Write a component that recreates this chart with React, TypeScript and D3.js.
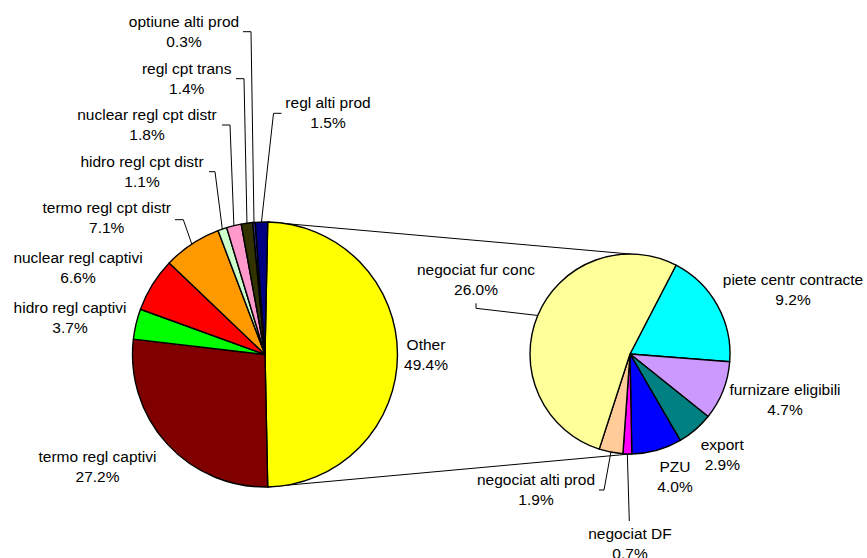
import React from "react";
import * as d3 from "d3";

const mainCategories = [
  "Other",
  "termo regl captivi",
  "hidro regl captivi",
  "nuclear regl captivi",
  "termo regl cpt distr",
  "hidro regl cpt distr",
  "nuclear regl cpt distr",
  "regl cpt trans",
  "optiune alti prod",
  "regl alti prod",
];
const mainValues = [49.4, 27.2, 3.7, 6.6, 7.1, 1.1, 1.8, 1.4, 0.3, 1.5];
const mainColors = [
  "#FFFF00", "#800000", "#00FF00", "#FF0000", "#FF9900",
  "#CCFFCC", "#FF99CC", "#333300", "#333399", "#000080",
];

const secCategories = [
  "piete centr contracte",
  "furnizare eligibili",
  "export",
  "PZU",
  "negociat DF",
  "negociat alti prod",
  "negociat fur conc",
];
const secValues = [9.2, 4.7, 2.9, 4.0, 0.7, 1.9, 26.0];
const secColors = [
  "#00FFFF", "#CC99FF", "#008080", "#0000FF", "#FF00FF", "#FFCC99", "#FFFF99",
];

// label layout: x = text center, y = first baseline; leader = polyline start points before edge
type Lay = { x: number; y: number; leader?: [number, number][] };
const mainLayout: Lay[] = [
  { x: 426, y: 349.5 },
  { x: 97.5, y: 462 },
  { x: 70, y: 313 },
  { x: 78, y: 263 },
  { x: 106.7, y: 233 - 20, leader: [[175, 219.7], [183.3, 219.7]] },
  { x: 142, y: 167, leader: [[209, 171.7], [215, 171.7]] },
  { x: 147, y: 120, leader: [[222, 125], [230, 125]] },
  { x: 186.7, y: 74, leader: [[236, 78.7], [244, 78.7]] },
  { x: 184, y: 27, leader: [[243, 31.7], [251, 31.7]] },
  { x: 328, y: 108, leader: [[281.5, 113.3], [273.5, 113.3]] },
];
const secLayout: Lay[] = [
  { x: 793, y: 285 },
  { x: 785, y: 395 },
  { x: 722.3, y: 450 },
  { x: 675, y: 471.5 },
  { x: 630, y: 539.3, leader: [[629.3, 521]] },
  { x: 536, y: 485, leader: [[599, 490], [604, 490]] },
  { x: 476, y: 275, leader: [[476, 303.3], [476, 308.3]] },
];

const W = 867;
const H = 558;
const mainC = { x: 265, y: 354.5, r: 132.5 };
const secC = { x: 630, y: 354, r: 100 };
const FONT = "'Liberation Sans', Arial, sans-serif";
const FS = 15.5;
const LH = 20;

export default function App() {
  const mainTotal = d3.sum(mainValues);
  const otherSpan = (mainValues[0] / mainTotal) * 2 * Math.PI;
  const a0 = Math.PI / 2 - otherSpan / 2;
  const mainPie = d3
    .pie<number>()
    .sort(null)
    .startAngle(a0)
    .endAngle(a0 + 2 * Math.PI)(mainValues);

  const s0 = (27.4 * Math.PI) / 180;
  const secPie = d3
    .pie<number>()
    .sort(null)
    .startAngle(s0)
    .endAngle(s0 + 2 * Math.PI)(secValues);

  const mainArc = d3.arc<d3.PieArcDatum<number>>().innerRadius(0).outerRadius(mainC.r);
  const secArc = d3.arc<d3.PieArcDatum<number>>().innerRadius(0).outerRadius(secC.r);

  const edge = (c: { x: number; y: number; r: number }, a: number): [number, number] => [
    c.x + c.r * Math.sin(a),
    c.y - c.r * Math.cos(a),
  ];

  const otherD = mainPie[0];
  const topMain = edge(mainC, otherD.startAngle);
  const botMain = edge(mainC, otherD.endAngle);
  const topSec: [number, number] = [secC.x, secC.y - secC.r];
  const botSec: [number, number] = [secC.x, secC.y + secC.r];

  const line = d3.line();

  const renderLabels = (
    pie: d3.PieArcDatum<number>[],
    cats: string[],
    lay: Lay[],
    c: { x: number; y: number; r: number },
    key: string
  ) =>
    pie.map((d, i) => {
      const l = lay[i];
      const mid = (d.startAngle + d.endAngle) / 2;
      const e = edge(c, mid);
      return (
        <g key={key + i}>
          {l.leader && (
            <path
              d={line([...l.leader, e]) || ""}
              fill="none"
              stroke="#000"
              strokeWidth={1}
            />
          )}
          <text
            x={l.x}
            y={l.y}
            textAnchor="middle"
            fontFamily={FONT}
            fontSize={FS}
            fill="#000"
          >
            <tspan x={l.x}>{cats[i]}</tspan>
            <tspan x={l.x} dy={LH}>
              {d.data.toFixed(1) + "%"}
            </tspan>
          </text>
        </g>
      );
    });

  return (
    <svg
      width={W}
      height={H}
      style={{ position: "fixed", left: 0, top: 0, background: "#fff" }}
    >
      <rect width={W} height={H} fill="#fff" />
      <path d={line([topMain, topSec]) || ""} stroke="#000" strokeWidth={1} fill="none" />
      <path d={line([botMain, botSec]) || ""} stroke="#000" strokeWidth={1} fill="none" />
      <g transform={`translate(${mainC.x},${mainC.y})`}>
        {mainPie.map((d, i) => (
          <path
            key={"m" + i}
            d={mainArc(d) || ""}
            fill={mainColors[i]}
            stroke="#000"
            strokeWidth={1.4}
            strokeLinejoin="round"
          />
        ))}
      </g>
      <g transform={`translate(${secC.x},${secC.y})`}>
        {secPie.map((d, i) => (
          <path
            key={"s" + i}
            d={secArc(d) || ""}
            fill={secColors[i]}
            stroke="#000"
            strokeWidth={1.4}
            strokeLinejoin="round"
          />
        ))}
      </g>
      {renderLabels(mainPie, mainCategories, mainLayout, mainC, "ml")}
      {renderLabels(secPie, secCategories, secLayout, secC, "sl")}
    </svg>
  );
}
